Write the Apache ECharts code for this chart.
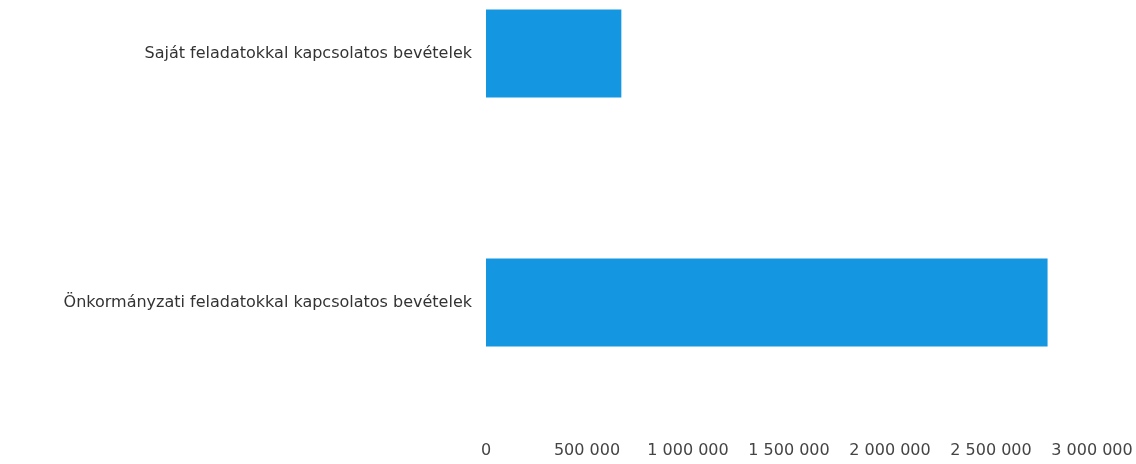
<!DOCTYPE html>
<html>
<head>
<meta charset="utf-8">
<script src="https://cdn.jsdelivr.net/npm/echarts@6/dist/echarts.min.js"></script>
<style>html,body{margin:0;padding:0;background:#fff}#c{width:1136px;height:464px}</style>
</head>
<body>
<div id="c"></div>
<script>
var categories = ['Önkormányzati feladatokkal kapcsolatos bevételek', 'Saját feladatokkal kapcsolatos bevételek'];
var values = [2780000, 670000];
var axisMax = 3000000;
var axisStep = 500000;

var chart = echarts.init(document.getElementById('c'));
chart.setOption({
  animation: false,
  backgroundColor: '#ffffff',
  grid: { left: 486, right: 44, top: 53.5, bottom: 161.5 },
  xAxis: {
    type: 'value', min: 0, max: axisMax, interval: axisStep, offset: 132,
    axisLine: { show: false }, axisTick: { show: false }, splitLine: { show: false },
    axisLabel: {
      margin: 8, color: '#444', fontFamily: 'DejaVu Sans', fontSize: 16,
      formatter: function (v) { return String(v).replace(/\B(?=(\d{3})+(?!\d))/g, ' '); }
    }
  },
  yAxis: {
    type: 'category', data: categories, boundaryGap: false,
    axisLine: { show: false }, axisTick: { show: false }, splitLine: { show: false },
    axisLabel: { margin: 14, color: '#333', fontFamily: 'DejaVu Sans', fontSize: 16 }
  },
  series: [{
    type: 'bar', data: values, barWidth: 88, clip: false,
    itemStyle: { color: '#1496e1' }
  }]
});
</script>
</body>
</html>
